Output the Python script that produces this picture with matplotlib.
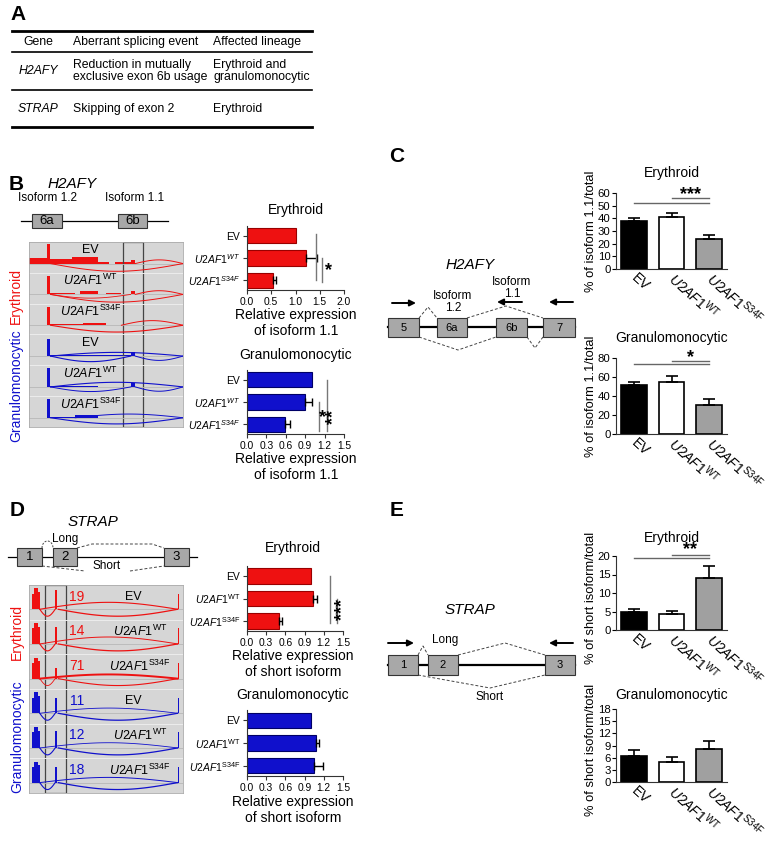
import matplotlib.pyplot as plt
import numpy as np
from matplotlib.patches import Rectangle
from matplotlib.transforms import ScaledTranslation

plt.rcParams['font.family'] = ['Liberation Sans', 'DejaVu Sans']
plt.rcParams['mathtext.fontset'] = 'custom'
plt.rcParams['mathtext.rm'] = 'Liberation Sans'
plt.rcParams['mathtext.it'] = 'Liberation Sans:italic'
plt.rcParams['mathtext.bf'] = 'Liberation Sans:bold'

W, H = 782, 846
RED = '#ee1111'
BLUE = '#1010cc'
GRAYBAR = '#a0a0a0'

# ---- data ----
lab_it = ['EV', r'$\mathit{U2AF1}^{\mathit{WT}}$', r'$\mathit{U2AF1}^{\mathit{S34F}}$']
lab_rm = ['EV', r'$\mathit{U2AF1}^{\mathrm{WT}}$', r'$\mathit{U2AF1}^{\mathrm{S34F}}$']

# A: table
tab_header = ['Gene', 'Aberrant splicing event', 'Affected lineage']
tab_genes = ['H2AFY', 'STRAP']
tab_events = ['Reduction in mutually\nexclusive exon 6b usage', 'Skipping of exon 2']
tab_lineage = ['Erythroid and\ngranulomonocytic', 'Erythroid']

# B: relative expression of H2AFY isoform 1.1
b_ery = [1.0, 1.22, 0.53]
b_ery_err = [0.0, 0.23, 0.07]
b_gran = [1.0, 0.90, 0.58]
b_gran_err = [0.0, 0.10, 0.08]
# C: % of isoform 1.1 / total
c_ery = [38, 41, 23.5]
c_ery_err = [2.5, 3.0, 3.5]
c_gran = [52, 55, 31]
c_gran_err = [3, 6, 6]
# D: relative expression of STRAP short isoform
d_ery = [1.0, 1.03, 0.50]
d_ery_err = [0.0, 0.07, 0.05]
d_gran = [1.0, 1.08, 1.05]
d_gran_err = [0.0, 0.05, 0.13]
# E: % of short isoform / total
e_ery = [4.8, 4.2, 14.0]
e_ery_err = [1.0, 1.0, 3.4]
e_gran = [6.5, 4.9, 8.2]
e_gran_err = [1.3, 1.2, 1.9]

# sashimi tracks: coverage (start, end, height), junction arcs (start, end, amplitude, width)
track_colors = [RED] * 3 + [BLUE] * 3
h2afy_cov = [
    [(0.0, 0.115, 0.18), (0.115, 0.135, 0.62), (0.135, 0.28, 0.14), (0.28, 0.45, 0.2),
     (0.45, 0.52, 0.06), (0.56, 0.66, 0.05), (0.66, 0.69, 0.12)],
    [(0.115, 0.135, 0.6), (0.135, 0.3, 0.05), (0.33, 0.45, 0.12), (0.5, 0.6, 0.03), (0.66, 0.69, 0.1)],
    [(0.115, 0.135, 0.6), (0.135, 0.35, 0.04), (0.35, 0.5, 0.07)],
    [(0.115, 0.135, 0.55), (0.135, 0.66, 0.05), (0.66, 0.69, 0.14)],
    [(0.115, 0.135, 0.6), (0.135, 0.45, 0.04), (0.66, 0.69, 0.14)],
    [(0.115, 0.135, 0.6), (0.135, 0.3, 0.04), (0.3, 0.45, 0.1)],
]
h2afy_arcs = [
    [(0.14, 1.0, -0.25, 0.7), (0.69, 1.0, 0.12, 0.7)],
    [(0.14, 1.0, -0.25, 0.7), (0.14, 0.66, -0.12, 0.6), (0.69, 1.0, 0.12, 0.7)],
    [(0.14, 1.0, -0.22, 0.8), (0.6, 1.0, 0.15, 0.7)],
    [(0.14, 0.66, -0.18, 0.8), (0.14, 1.0, 0.12, 0.8), (0.69, 1.0, -0.14, 0.7)],
    [(0.14, 0.66, -0.15, 0.7), (0.14, 1.0, 0.15, 0.8), (0.69, 1.0, -0.14, 0.7)],
    [(0.14, 1.0, -0.2, 0.8), (0.3, 1.0, 0.12, 0.7)],
]
strap_cov = [
    [(0.02, 0.03, 0.45), (0.03, 0.06, 0.6), (0.06, 0.07, 0.5), (0.17, 0.185, 0.55), (0.965, 0.975, 0.45)],
    [(0.02, 0.03, 0.45), (0.03, 0.06, 0.6), (0.06, 0.07, 0.5), (0.17, 0.185, 0.5), (0.965, 0.975, 0.45)],
    [(0.02, 0.03, 0.45), (0.03, 0.06, 0.6), (0.06, 0.07, 0.5), (0.17, 0.185, 0.3), (0.965, 0.975, 0.45)],
    [(0.02, 0.03, 0.45), (0.03, 0.06, 0.6), (0.06, 0.07, 0.5), (0.17, 0.185, 0.45), (0.965, 0.975, 0.45)],
    [(0.02, 0.03, 0.45), (0.03, 0.06, 0.6), (0.06, 0.07, 0.5), (0.17, 0.185, 0.5), (0.965, 0.975, 0.45)],
    [(0.02, 0.03, 0.45), (0.03, 0.06, 0.6), (0.06, 0.07, 0.5), (0.17, 0.185, 0.45), (0.965, 0.975, 0.45)],
]
strap_arcs = [
    [(0.07, 0.17, -0.2, 0.8), (0.19, 0.965, -0.2, 0.9), (0.07, 0.965, 0.2, 0.8)],
    [(0.07, 0.17, -0.2, 0.8), (0.19, 0.965, -0.2, 0.9), (0.07, 0.965, 0.2, 0.7)],
    [(0.07, 0.17, -0.2, 0.6), (0.19, 0.965, -0.2, 0.8), (0.07, 0.965, 0.12, 1.4)],
    [(0.07, 0.17, -0.2, 0.8), (0.19, 0.965, -0.2, 0.9), (0.07, 0.965, 0.15, 0.6)],
    [(0.07, 0.17, -0.2, 0.8), (0.19, 0.965, -0.2, 0.9), (0.07, 0.965, 0.15, 0.6)],
    [(0.07, 0.17, -0.2, 0.8), (0.19, 0.965, -0.2, 0.9), (0.07, 0.965, 0.15, 0.7)],
]
strap_reads = [19, 14, 71, 11, 12, 18]

fig = plt.figure(figsize=(W / 100, H / 100), dpi=100)


def px_ax(x0, y0, x1, y1):
    return fig.add_axes([x0 / W, 1 - y1 / H, (x1 - x0) / W, (y1 - y0) / H])


ov = fig.add_axes([0, 0, 1, 1])
ov.set_xlim(0, W)
ov.set_ylim(H, 0)
ov.axis('off')


def txt(x, y, s, **kw):
    kw.setdefault('ha', 'center')
    kw.setdefault('va', 'center')
    ov.text(x, y, s, **kw)


def exon(x0, x1, y0, y1, label, fs=9):
    ov.add_patch(Rectangle((x0, y0), x1 - x0, y1 - y0, fc='#a8a8a8', ec='#333333', lw=0.8, zorder=3))
    txt((x0 + x1) / 2, (y0 + y1) / 2 + 0.5, label, fontsize=fs, zorder=4)


def dashed(pts):
    pts = np.array(pts)
    ov.plot(pts[:, 0], pts[:, 1], color='#444444', lw=0.7, dashes=(3, 2))


def arrow(x0, x1, y):
    ov.annotate('', xy=(x1, y), xytext=(x0, y),
                arrowprops=dict(arrowstyle='-|>', lw=1.4, color='k', mutation_scale=9,
                                shrinkA=0, shrinkB=0))


# ---- panel letters / gene names ----
for s, x, y in [('A', 18, 15), ('B', 16, 184), ('C', 397, 156), ('D', 17, 510), ('E', 397, 511)]:
    txt(x, y, s, fontsize=15, fontweight='bold')
txt(72, 184, 'H2AFY', fontsize=11, style='italic')
txt(470, 265, 'H2AFY', fontsize=11, style='italic')
txt(93, 522, 'STRAP', fontsize=11, style='italic')
txt(470, 610, 'STRAP', fontsize=11, style='italic')

# ---- A: table ----
ov.plot([12, 312], [31, 31], color='k', lw=2)
ov.plot([12, 312], [52, 52], color='k', lw=1.2)
ov.plot([12, 312], [90, 90], color='k', lw=1.2)
ov.plot([12, 312], [127, 127], color='k', lw=2)
txt(38, 42, tab_header[0], fontsize=8.8)
txt(73, 42, tab_header[1], fontsize=8.8, ha='left')
txt(213, 42, tab_header[2], fontsize=8.8, ha='left')
for yy, g, ev, lin in zip([71, 109], tab_genes, tab_events, tab_lineage):
    txt(38, yy, g, fontsize=8.8, style='italic')
    txt(73, yy, ev, fontsize=8.8, ha='left', linespacing=1.05)
    txt(213, yy, lin, fontsize=8.8, ha='left', linespacing=1.05)

# ---- gene diagrams ----
# B
txt(47, 198, 'Isoform 1.2', fontsize=8.5)
txt(135, 198, 'Isoform 1.1', fontsize=8.5)
ov.plot([21, 168], [221, 221], color='k', lw=0.9)
exon(32, 62, 214, 228, '6a', 9.5)
exon(118, 147, 214, 228, '6b', 9.5)
# C
ov.plot([388, 575], [327, 327], color='k', lw=1.6)
for x0, x1, lab in [(388, 419, '5'), (437, 467, '6a'), (496, 527, '6b'), (543, 575, '7')]:
    exon(x0, x1, 318, 337, lab, 8)
dashed([(419, 318), (428, 307), (437, 318)])
dashed([(467, 318), (506, 306), (543, 318)])
dashed([(419, 337), (458, 350), (496, 337)])
dashed([(527, 337), (535, 348), (543, 337)])
arrow(392, 416, 303)
arrow(522, 497, 302)
arrow(573, 549, 302)
txt(453, 302, 'Isoform\n1.2', fontsize=8.5, linespacing=1.0)
txt(512, 288, 'Isoform\n1.1', fontsize=8.5, linespacing=1.0)
# D
ov.plot([8, 197], [557, 557], color='k', lw=0.9)
for x0, x1, lab in [(17, 42, '1'), (53, 77, '2'), (164, 189, '3')]:
    exon(x0, x1, 548, 566, lab, 9.5)
t = np.linspace(0, np.pi, 20)
ov.plot(47.5 - 5.5 * np.cos(t), 548 - 7 * np.sin(t), color='#444444', lw=0.7, dashes=(2, 1.5))
dashed([(77, 548), (92, 544), (152, 544), (164, 548)])
dashed([(42, 566), (85, 571)])
dashed([(130, 571), (164, 566)])
txt(65, 539, 'Long', fontsize=8.5)
txt(107, 566, 'Short', fontsize=8.5)
# E
ov.plot([388, 575], [665, 665], color='k', lw=1.6)
for x0, x1, lab in [(388, 418, '1'), (428, 458, '2'), (545, 575, '3')]:
    exon(x0, x1, 655, 675, lab, 8)
dashed([(418, 655), (423, 646), (428, 655)])
dashed([(458, 655), (505, 643), (545, 655)])
dashed([(418, 675), (490, 688), (545, 675)])
arrow(388, 414, 643)
arrow(573, 549, 643)
txt(445, 640, 'Long', fontsize=8.5)
txt(490, 697, 'Short', fontsize=8.5)


# ---- sashimi plots ----
def sashimi(ax, cov, arcs, box):
    ax.set_xlim(0, 1)
    ax.set_ylim(0, 6)
    ax.set_facecolor('#d6d6d6')
    for i in range(6):
        base = 5 - i + 0.3
        c = track_colors[i]
        ax.plot([0, 1], [base, base], color='#b8b8b8', lw=0.6)
        for x0, x1, h in cov[i]:
            ax.fill_between([x0, x1], [base, base], [base + h, base + h], color=c, lw=0)
        tt = np.linspace(0, 1, 60)
        for x0, x1, a, lw in arcs[i]:
            ax.plot(x0 + (x1 - x0) * tt, base + a * np.sin(np.pi * tt), color=c, lw=lw)
        if i:
            ax.axhline(6 - i, color='#ececec', lw=0.7)
    ax.add_patch(Rectangle((box[0], 0), box[1] - box[0], 6, fc='none', ec='#444444', lw=0.9))
    ax.set_xticks([])
    ax.set_yticks([])
    for s in ax.spines.values():
        s.set_color('#aaaaaa')
        s.set_linewidth(0.6)


sb = px_ax(29, 242, 183, 427)
sashimi(sb, h2afy_cov, h2afy_arcs, (0.61, 0.74))
for i, lab in enumerate(lab_rm * 2):
    sb.text(0.40, 5 - i + 0.74, lab, fontsize=9, ha='center', va='center', color='k')
txt(16, 296, 'Erythroid', fontsize=10, color=RED, rotation=90)
txt(16, 386, 'Granulomonocytic', fontsize=10, color=BLUE, rotation=90)

sd = px_ax(29, 585, 183, 793)
sashimi(sd, strap_cov, strap_arcs, (0.104, 0.24))
for i, lab in enumerate(lab_rm * 2):
    sd.text(0.72 if i % 3 else 0.675, 5 - i + 0.66, lab, fontsize=9, ha='center', va='center')
    sd.text(0.31, 5 - i + 0.66, str(strap_reads[i]), fontsize=10, ha='center', va='center',
            color=track_colors[i])
txt(17, 632, 'Erythroid', fontsize=10, color=RED, rotation=90)
txt(17, 737, 'Granulomonocytic', fontsize=10, color=BLUE, rotation=90)


# ---- horizontal bar charts (B, D) ----
def hbars(ax, vals, errs, color, edge, xmax, xticks, ticklabels, ylabs):
    y = np.arange(3)
    ax.barh(y, vals, height=0.68, color=color, edgecolor=edge, lw=0.8)
    m = np.array(errs) > 0
    ax.errorbar(np.array(vals)[m], y[m], xerr=[np.zeros(m.sum()), np.array(errs)[m]], fmt='none',
                ecolor='k', elinewidth=1, capsize=3, capthick=1)
    ax.set_ylim(2.45, -0.45)
    ax.set_xlim(0, xmax)
    ax.set_yticks(y)
    ax.set_yticklabels(ylabs, fontsize=7.5)
    ax.set_xticks(xticks)
    ax.set_xticklabels(ticklabels, fontsize=7.4)
    for s in ['top', 'right']:
        ax.spines[s].set_visible(False)
    for s in ['left', 'bottom']:
        ax.spines[s].set_color('#333333')
    ax.tick_params(length=3, width=0.8, pad=2, color='#333333')
    ax.set_facecolor('none')


def vline(ax, x, y0, y1):
    ax.plot([x, x], [y0, y1], color='#777777', lw=1, clip_on=False)


ticks15 = [0, 0.3, 0.6, 0.9, 1.2, 1.5]
ticks15_lab = ['0.0', '0.3', '0.6', '0.9', '1.2', '1.5']

ax = px_ax(247, 226, 344, 290)
hbars(ax, b_ery, b_ery_err, RED, '#990000', 2.0, [0, 0.5, 1.0, 1.5, 2.0],
      ['0.0', '0.5', '1.0', '1.5', '2.0'], lab_it)
vline(ax, 1.42, -0.1, 2.0)
vline(ax, 1.55, 1.0, 2.1)
ax.text(1.68, 1.55, '*', fontsize=13, ha='center', va='center', fontweight='bold')
txt(296, 210, 'Erythroid', fontsize=10)
txt(296, 323, 'Relative expression\nof isoform 1.1', fontsize=10, linespacing=1.1)

ax = px_ax(247, 370, 344, 434)
hbars(ax, b_gran, b_gran_err, BLUE, '#000066', 1.5, ticks15, ticks15_lab, lab_it)
vline(ax, 1.24, 0.0, 2.3)
vline(ax, 1.11, 1.0, 2.3)
ax.text(1.175, 1.7, '*', fontsize=13, ha='center', va='center', fontweight='bold')
ax.text(1.34, 1.7, '**', fontsize=13, ha='center', va='center', fontweight='bold', rotation=90)
txt(296, 355, 'Granulomonocytic', fontsize=10)
txt(296, 467, 'Relative expression\nof isoform 1.1', fontsize=10, linespacing=1.1)

ax = px_ax(247, 566, 343, 631)
hbars(ax, d_ery, d_ery_err, RED, '#990000', 1.5, ticks15, ticks15_lab, lab_rm)
vline(ax, 1.3, 0.0, 2.1)
vline(ax, 1.4, 1.0, 2.1)
ax.text(1.5, 1.5, '***', fontsize=13, ha='center', va='center', fontweight='bold', rotation=90)
txt(293, 548, 'Erythroid', fontsize=10)
txt(293, 664, 'Relative expression\nof short isoform', fontsize=10, linespacing=1.1)

ax = px_ax(247, 710, 343, 776)
hbars(ax, d_gran, d_gran_err, BLUE, '#000066', 1.5, ticks15, ticks15_lab, lab_rm)
txt(293, 695, 'Granulomonocytic', fontsize=10)
txt(293, 810, 'Relative expression\nof short isoform', fontsize=10, linespacing=1.1)


# ---- vertical bar charts (C, E) ----
def vbars(ax, vals, errs, ymax, yticks):
    x = np.arange(3)
    ax.bar(x, vals, width=0.68, color=['black', 'white', GRAYBAR], edgecolor='black', lw=1.2)
    ax.errorbar(x, vals, yerr=[np.zeros(3), errs], fmt='none', ecolor='black', elinewidth=1.2,
                capsize=4, capthick=1.2)
    ax.set_xlim(-0.48, 2.48)
    ax.set_ylim(0, ymax)
    ax.set_yticks(yticks)
    ax.set_yticklabels([str(v) for v in yticks], fontsize=8.2)
    ax.set_xticks(x)
    ax.set_xticklabels(lab_rm, rotation=-42, ha='left', va='center', rotation_mode='anchor',
                       fontsize=10)
    shift = ScaledTranslation(-9 / 100, 0, fig.dpi_scale_trans)
    for lab in ax.get_xticklabels():
        lab.set_transform(lab.get_transform() + shift)
    for s in ['top', 'right']:
        ax.spines[s].set_visible(False)
    for s in ['left', 'bottom']:
        ax.spines[s].set_color('#333333')
    ax.tick_params(axis='y', length=3, width=0.8, pad=1)
    ax.tick_params(axis='x', length=0, pad=5)
    ax.set_facecolor('none')


def sig(ax, ylong, yshort, ystar, stars):
    ax.plot([0, 2], [ylong, ylong], color='#666666', lw=1, clip_on=False)
    ax.plot([1, 2], [yshort, yshort], color='#666666', lw=1, clip_on=False)
    ax.text(1.5, ystar, stars, fontsize=13, ha='center', va='center', fontweight='bold')


YLX = 591
ax = px_ax(616, 193, 727, 269)
vbars(ax, c_ery, c_ery_err, 60, [0, 10, 20, 30, 40, 50, 60])
sig(ax, 52, 56, 59, '***')
txt(672, 173, 'Erythroid', fontsize=10)
txt(YLX, 231, '% of isoform 1.1/total', fontsize=9.3, rotation=90)

ax = px_ax(616, 358, 727, 434)
vbars(ax, c_gran, c_gran_err, 80, [0, 20, 40, 60, 80])
sig(ax, 73.4, 77.2, 80.5, '*')
txt(672, 338, 'Granulomonocytic', fontsize=10)
txt(YLX, 396, '% of isoform 1.1/total', fontsize=9.3, rotation=90)

ax = px_ax(616, 556, 727, 630)
vbars(ax, e_ery, e_ery_err, 20, [0, 5, 10, 15, 20])
sig(ax, 19.4, 20.3, 21.6, '**')
txt(672, 538, 'Erythroid', fontsize=10)
txt(YLX, 598, '% of short isoform/total', fontsize=9.3, rotation=90)

ax = px_ax(616, 709, 727, 782)
vbars(ax, e_gran, e_gran_err, 18, [0, 3, 6, 9, 12, 15, 18])
txt(672, 695, 'Granulomonocytic', fontsize=10)
txt(YLX, 750, '% of short isoform/total', fontsize=9.3, rotation=90)

fig.savefig('out.png', dpi=100)
